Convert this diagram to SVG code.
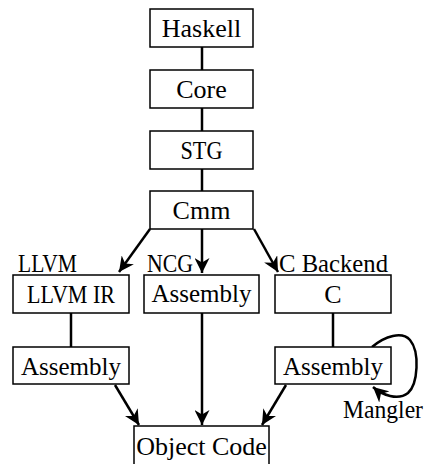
<svg xmlns="http://www.w3.org/2000/svg" width="431" height="464" viewBox="0 0 431 464">
<style>
.box{fill:#fff;stroke:#000;stroke-width:1.5}
text{font-family:"Liberation Serif","Times New Roman",serif;font-size:26px;fill:#000}
.c{text-anchor:middle}
.e{fill:none;stroke:#000;stroke-width:2.5}
</style>
<defs>
<marker id="ah" viewBox="0 0 10 10" refX="10" refY="5" markerWidth="6" markerHeight="6" orient="auto" markerUnits="strokeWidth">
<path d="M0,0 L10,5 L0,10 L3,5 z" fill="#000"/>
</marker>
</defs>
<g id="connectors">
<line class="e" x1="202" y1="47" x2="202" y2="70"/>
<line class="e" x1="202" y1="108" x2="202" y2="131"/>
<line class="e" x1="202" y1="169" x2="202" y2="191"/>
<line class="e" x1="150" y1="229" x2="119" y2="272" marker-end="url(#ah)"/>
<line class="e" x1="202" y1="229" x2="202" y2="273" marker-end="url(#ah)"/>
<line class="e" x1="254" y1="229" x2="278" y2="272" marker-end="url(#ah)"/>
<line class="e" x1="71" y1="313" x2="71" y2="347"/>
<line class="e" x1="333" y1="313" x2="333" y2="347"/>
<line class="e" x1="115" y1="385" x2="139" y2="425" marker-end="url(#ah)"/>
<line class="e" x1="202" y1="313" x2="202" y2="425" marker-end="url(#ah)"/>
<line class="e" x1="286" y1="385" x2="262" y2="425" marker-end="url(#ah)"/>
<path class="e" d="M372,347 C385,336 402,331 410,340 C420,352 418,384 408,393 C398,401 382,395 373,387" marker-end="url(#ah)"/>
</g>
<g id="haskell"><rect class="box" x="150" y="9" width="103" height="38"/><text class="c" x="201.5" y="37">Haskell</text></g>
<g id="core"><rect class="box" x="150" y="70" width="103" height="38"/><text class="c" x="201.5" y="98">Core</text></g>
<g id="stg"><rect class="box" x="150" y="131" width="103" height="38"/><text class="c" x="201.5" y="159" textLength="42" lengthAdjust="spacingAndGlyphs">STG</text></g>
<g id="cmm"><rect class="box" x="150" y="191" width="103" height="38"/><text class="c" x="201.5" y="219">Cmm</text></g>
<g id="llvm-ir"><rect class="box" x="13" y="275" width="116" height="38"/><text class="c" x="71" y="303" textLength="88" lengthAdjust="spacingAndGlyphs">LLVM IR</text></g>
<g id="ncg-assembly"><rect class="box" x="144" y="275" width="115" height="38"/><text class="c" x="201.5" y="302" textLength="100" lengthAdjust="spacingAndGlyphs">Assembly</text></g>
<g id="c"><rect class="box" x="275" y="275" width="116" height="38"/><text class="c" x="333" y="303">C</text></g>
<g id="llvm-assembly"><rect class="box" x="13" y="347" width="116" height="37"/><text class="c" x="71" y="375" textLength="100" lengthAdjust="spacingAndGlyphs">Assembly</text></g>
<g id="c-assembly"><rect class="box" x="275" y="347" width="116" height="37"/><text class="c" x="333" y="375" textLength="100" lengthAdjust="spacingAndGlyphs">Assembly</text></g>
<g id="object-code"><rect class="box" x="134" y="426" width="135" height="40"/><text class="c" x="201.5" y="455">Object Code</text></g>
<g id="labels">
<text x="18" y="272" textLength="59" lengthAdjust="spacingAndGlyphs">LLVM</text>
<text x="147" y="272" textLength="46" lengthAdjust="spacingAndGlyphs">NCG</text>
<text x="279" y="272" textLength="109" lengthAdjust="spacingAndGlyphs">C Backend</text>
<text x="343" y="418" textLength="80" lengthAdjust="spacingAndGlyphs">Mangler</text>
</g>
</svg>
